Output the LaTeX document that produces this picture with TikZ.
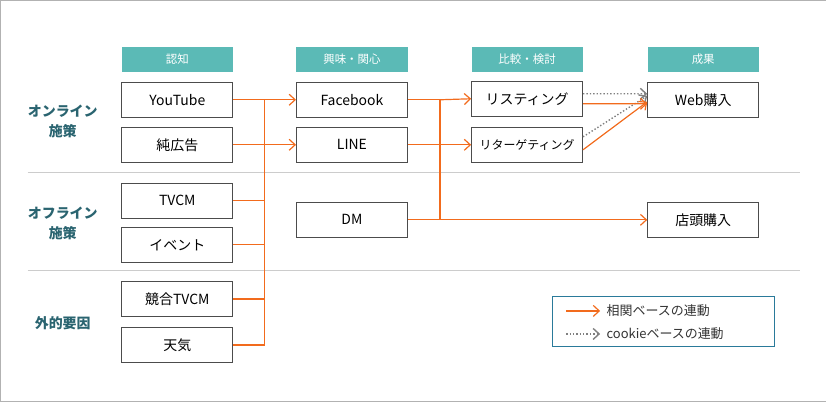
\documentclass[tikz,border=0pt]{standalone}
\usepackage{fontspec}
\setmainfont{Noto Sans CJK JP}
\usetikzlibrary{arrows.meta}
\definecolor{hdr}{HTML}{5BBAB6}
\definecolor{lbl}{HTML}{2A6470}
\definecolor{org}{HTML}{F26B1D}
\definecolor{lgb}{HTML}{2A7A9A}
\begin{document}
\begin{tikzpicture}[x=1bp,y=-1bp,
 box/.style={draw=black!70,line width=0.8pt,minimum width=111bp,minimum height=35bp,inner sep=0,font=\fontsize{14}{16}\selectfont},
 hd/.style={fill=hdr,minimum width=111bp,minimum height=25bp,inner sep=0,text=white,font=\fontsize{11.5}{13}\selectfont},
 rl/.style={text=lbl,font=\bfseries\fontsize{14}{20}\selectfont,align=center},
 ol/.style={draw=org,line width=1.2pt},
 oa/.style={ol,-{Straight Barb[length=6pt,width=11pt]}},
 da/.style={draw=gray,dotted,line width=1.4pt,-{Straight Barb[length=6pt,width=11pt]}}]
\draw[gray!60] (0.5,0.5) rectangle (825.5,401.5);
\node[hd] (h1) at (177.5,59.5) {認知};
\node[hd] (h2) at (352,59.5) {興味・関心};
\node[hd] (h3) at (527,59.5) {比較・検討};
\node[hd] (h4) at (703,59.5) {成果};
\node[rl] (r1) at (63,122) {オンライン\\施策};
\node[rl] (r2) at (63,224) {オフライン\\施策};
\node[rl] (r3) at (63,323) {外的要因};
\draw[gray!40] (28,172) -- (800,172) (28,270) -- (800,270);
\node[box] (yt) at (177.5,100) {YouTube};
\node[box] (ad) at (177.5,145) {純広告};
\node[box] (tv) at (177.5,201) {TVCM};
\node[box] (ev) at (177.5,245) {イベント};
\node[box] (kt) at (177.5,299) {競合TVCM};
\node[box] (wt) at (177.5,345) {天気};
\node[box] (fb) at (352,100) {Facebook};
\node[box] (ln) at (352,145) {LINE};
\node[box] (dm) at (352,220) {DM};
\node[box] (ls) at (527,99) {リスティング};
\node[box,font=\fontsize{12}{13}\selectfont] (rt) at (527,145) {リターゲティング};
\node[box] (wb) at (703,100) {Web購入};
\node[box] (st) at (703,220) {店頭購入};
\coordinate (b1) at (265,100);
\coordinate (b2) at (440,100);
\draw[ol] (yt.east) -- (b1) -- (b1|-wt.east) -- (wt.east);
\foreach \n in {ad,tv,ev,kt} \draw[ol] (\n.east) -- (b1|-\n.east);
\draw[oa] (b1) -- (fb.west);
\draw[oa] (b1|-ln.west) -- (ln.west);
\draw[ol] (fb.east) -- (b2) -- (b2|-dm.east) -- (dm.east);
\draw[ol] (ln.east) -- (b2|-ln.east);
\draw[oa] (b2) -- (ls.west);
\draw[oa] (b2|-rt.west) -- (rt.west);
\draw[oa] (b2|-st.west) -- (st.west);
\draw[da] ([yshift=5]ls.east) -- ([yshift=6]wb.west);
\draw[da] ([yshift=8]rt.east) -- ([yshift=4]wb.west);
\draw[oa] ([yshift=-5]ls.east) -- ([yshift=-4]wb.west);
\draw[oa] ([yshift=-5]rt.east) -- ([yshift=-2]wb.west);
\node[draw=lgb,line width=1pt,minimum width=222bp,minimum height=50bp] (lg) at (663,322) {};
\coordinate (l1) at (566,311);
\coordinate (l2) at (600,311);
\coordinate (l3) at (566,334);
\coordinate (l4) at (600,334);
\draw[oa] (l1) -- (l2);
\draw[da] (l3) -- (l4);
\node[anchor=west,font=\fontsize{13}{14}\selectfont,text=black!80] (t1) at (603,311) {相関ベースの連動};
\node[anchor=west,font=\fontsize{13}{14}\selectfont,text=black!80] (t2) at (603,334) {cookieベースの連動};
\end{tikzpicture}
\end{document}
